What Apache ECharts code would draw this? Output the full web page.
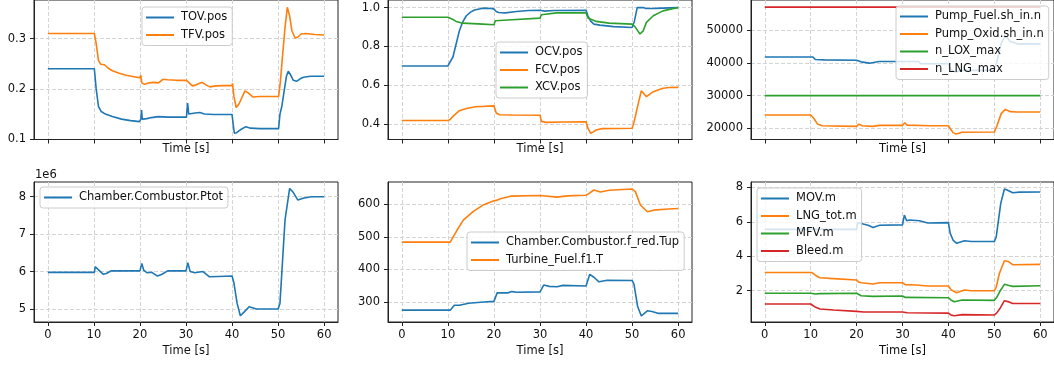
<!DOCTYPE html>
<html>
<head>
<meta charset="utf-8">
<title>Engine transient</title>
<script src="https://cdn.jsdelivr.net/npm/echarts@6/dist/echarts.min.js"></script>
<style>
  html, body { margin: 0; padding: 0; background: #fff; }
  #chart { width: 1054px; height: 367px; }
</style>
</head>
<body>
<div id="chart"></div>
<script>
// tick values
const timeTicks = [0, 10, 20, 30, 40, 50, 60];
const posTicksA = [0.1, 0.2, 0.3];
const posTicksB = [0.4, 0.6, 0.8, 1.0];
const speedTicks = [20000, 30000, 40000, 50000];
const pressTicks = [5e6, 6e6, 7e6, 8e6];
const tempTicks = [300, 400, 500, 600];
const flowTicks = [2, 4, 6, 8];

// valve positions [t, value]
const tovPos = [[0,0.240],[10.1,0.240],[10.5,0.200],[11.0,0.165],[11.6,0.155],[12.5,0.150],[14,0.145],[16,0.140],[18,0.137],[19.9,0.135],[20.2,0.140],[20.35,0.158],[20.5,0.140],[20.8,0.138],[21.5,0.141],[22.5,0.143],[24,0.145],[26,0.144],[30.1,0.144],[30.35,0.172],[30.6,0.150],[30.9,0.148],[32,0.152],[33,0.153],[34,0.150],[36,0.149],[40.0,0.149],[40.3,0.125],[40.5,0.112],[41,0.113],[42,0.120],[43,0.125],[44,0.122],[46,0.121],[50.1,0.121],[50.4,0.150],[50.8,0.165],[51.3,0.195],[51.8,0.225],[52.2,0.235],[52.7,0.228],[53.3,0.217],[54,0.215],[54.8,0.220],[55.5,0.223],[57,0.225],[60,0.225]];
const tfvPos = [[0,0.310],[10.1,0.310],[10.5,0.290],[11,0.256],[11.5,0.249],[12.3,0.248],[13,0.242],[14,0.236],[15.5,0.231],[17,0.227],[19.9,0.222],[20.2,0.227],[20.4,0.212],[21,0.209],[22,0.212],[23,0.213],[24,0.212],[25,0.219],[26,0.218],[28,0.217],[30.1,0.217],[30.4,0.220],[31.4,0.206],[32.2,0.208],[33.5,0.213],[34.5,0.207],[35.2,0.204],[36.5,0.206],[40,0.207],[40.1,0.211],[40.4,0.185],[40.9,0.163],[41.5,0.170],[42.8,0.196],[43.5,0.192],[44.5,0.184],[46,0.185],[50.1,0.185],[50.5,0.215],[51,0.270],[51.5,0.322],[52.0,0.362],[52.5,0.345],[53,0.315],[53.7,0.301],[54.3,0.303],[55,0.309],[56,0.310],[58,0.308],[60,0.307]];
const ocvPos = [[0,0.70],[10,0.70],[10.3,0.71],[11.1,0.746],[12.5,0.881],[13.2,0.925],[14,0.958],[15,0.978],[15.8,0.988],[17.6,0.997],[19.5,0.995],[20,0.992],[20.5,0.98],[21,0.975],[22.5,0.973],[24.9,0.98],[27.5,0.985],[30,0.986],[30.2,0.98],[31,0.982],[33,0.985],[40,0.986],[40.4,0.958],[41,0.93],[41.7,0.915],[43,0.91],[46,0.902],[50,0.898],[50.5,0.93],[51.1,1.0],[52.4,1.0],[53,0.995],[55,0.996],[60,1.0]];
const fcvPos = [[0,0.42],[10,0.42],[10.5,0.425],[11.1,0.441],[12.5,0.47],[14,0.481],[16,0.49],[20,0.495],[20.2,0.48],[20.5,0.458],[21.2,0.449],[24,0.448],[30,0.447],[30.3,0.415],[31.3,0.41],[35,0.412],[40,0.413],[40.4,0.38],[41,0.354],[41.5,0.36],[42.2,0.371],[43.5,0.378],[50,0.38],[50.4,0.41],[51,0.473],[52,0.573],[53.1,0.542],[54.6,0.568],[56.7,0.585],[58,0.589],[60,0.59]];
const xcvPos = [[0,0.95],[10,0.95],[11,0.94],[11.8,0.929],[13.2,0.92],[17.6,0.915],[20,0.912],[20.3,0.932],[23,0.936],[30,0.946],[30.3,0.963],[33.6,0.973],[40,0.973],[40.4,0.946],[42.2,0.929],[45,0.92],[50,0.915],[50.6,0.902],[51.7,0.864],[52.4,0.88],[53.1,0.924],[54.6,0.958],[56.7,0.983],[60,1.0]];

// pump speeds
const pumpFuel = [[0,41800],[10.5,41800],[11,41000],[13,40900],[20,40800],[21,40300],[22.8,39900],[24.9,40400],[30,40400],[33.5,40400],[34,39700],[40,39700],[40.5,38000],[41.5,37200],[43,37700],[50,37700],[50.5,40000],[51.5,46000],[52.4,48300],[53.5,46500],[55,45800],[60,45800]];
const pumpOxid = [[0,24100],[10,24100],[10.7,23000],[11.5,21300],[12.5,20800],[20,20600],[20.5,21300],[21.2,20800],[23.5,20600],[25,20900],[30,20900],[30.5,21700],[31,21000],[36,20800],[40,20800],[40.6,19500],[41,18700],[41.7,18300],[43,18800],[50,18900],[50.5,20500],[51.5,24500],[52.4,25800],[53.5,25100],[55,25000],[60,25000]];
const nLoxMax = [[0,30000],[60,30000]];
const nLngMax = [[0,57000],[60,57000]];

// chamber pressure
const ptot = [[0,5.98e6],[10.1,5.98e6],[10.3,6.13e6],[10.9,6.06e6],[12,5.93e6],[12.7,5.95e6],[13.8,6.02e6],[20,6.02e6],[20.2,6.05e6],[20.4,6.22e6],[20.8,6.04e6],[21.5,5.97e6],[22.6,5.98e6],[23.8,5.88e6],[24.8,5.93e6],[26,6.02e6],[30,6.02e6],[30.2,6.06e6],[30.4,6.24e6],[30.9,6.0e6],[31.9,5.97e6],[33.7,6.0e6],[35.1,5.86e6],[37,5.87e6],[40,5.88e6],[40.4,5.7e6],[41.1,5.15e6],[41.8,4.82e6],[42.7,4.93e6],[43.7,5.06e6],[45.3,5.0e6],[50,5.0e6],[50.4,5.15e6],[51.5,7.38e6],[52.5,8.22e6],[53.2,8.13e6],[54.3,7.91e6],[55.4,7.96e6],[57.2,8.0e6],[60,8.0e6]];

// temperatures
const tupTemp = [[0,275],[10.5,275],[11.4,290],[12.5,290],[14.5,296],[17.8,300],[20,302],[20.7,328],[23,328],[23.9,332],[25,330],[30,331],[30.8,352],[32,348],[33.7,347],[35,351],[40,349],[40.3,355],[40.8,385],[41.7,376],[42.8,362],[44.6,367],[50,366],[50.4,355],[51.2,286],[52,257],[53.3,273],[54.3,271],[55.8,265],[60,265]];
const turbTemp = [[0,484],[10.5,484],[12,521],[13.4,552],[15.6,579],[17.8,599],[20,611],[20.5,612],[21.4,617],[23.6,625],[30,627],[30.4,624],[33.7,622],[35.9,626],[40,628],[40.5,632],[41.7,644],[43.1,638],[45,643],[50,647],[50.7,639],[51.8,598],[53.3,577],[54.7,582],[57,585],[60,587]];

// mass flows
const movFlow = [[0,5.56],[20,5.56],[20.2,5.95],[21,5.9],[22.5,5.8],[23.6,5.67],[25,5.8],[30,5.82],[30.2,5.9],[30.4,6.39],[30.9,6.06],[31.5,6.1],[33.7,6.06],[35.5,5.93],[40,5.95],[40.4,5.33],[41,4.94],[41.8,4.75],[43.5,4.9],[45,4.86],[50,4.86],[50.4,5.1],[51.4,7.07],[52.2,7.9],[52.8,7.85],[54,7.69],[55.5,7.72],[60,7.73]];
const lngFlow = [[0,3.06],[10.2,3.06],[11,2.9],[12,2.75],[15,2.7],[20,2.62],[20.5,2.5],[21,2.46],[23.6,2.39],[25,2.46],[30,2.46],[30.6,2.35],[33,2.33],[35.5,2.27],[40,2.27],[40.6,2.05],[41,1.94],[41.8,1.88],[43.5,2.04],[45,2.0],[50,2.0],[50.4,2.2],[51.1,3.0],[52.2,3.74],[53,3.7],[54,3.51],[60,3.53]];
const mfvFlow = [[0,1.85],[10,1.85],[11,1.81],[12,1.83],[20,1.85],[21,1.71],[23.5,1.67],[30,1.69],[30.6,1.61],[40,1.59],[40.6,1.45],[41.3,1.36],[43,1.46],[50,1.44],[50.5,1.6],[51.3,2.0],[52.2,2.37],[53.2,2.3],[54,2.25],[60,2.29]];
const bleedFlow = [[0,1.23],[10,1.23],[11,1.05],[12,0.94],[15,0.88],[20,0.8],[20.3,0.84],[21.5,0.76],[30,0.76],[30.3,0.8],[31,0.72],[40,0.7],[40.6,0.58],[41.3,0.55],[43,0.61],[50,0.59],[50.5,0.7],[51.3,1.0],[52.2,1.42],[53.2,1.35],[54,1.26],[60,1.26]];

const FONT = 'DejaVu Sans';
const FS = 11.5;
const C = ['#1f77b4', '#ff7f0e', '#2ca02c', '#d62728'];

const chart = echarts.init(document.getElementById('chart'));

// panel layout: left, top, y range, y ticks, label formatter
const panels = [
  { left: 34, top: -1, h: 140.5, min: 0.0995, max: 0.3765, ticks: posTicksA, fmt: v => v.toFixed(1) },
  { left: 388, top: -1, h: 140.5, min: 0.322, max: 1.039, ticks: posTicksB, fmt: v => v.toFixed(1) },
  { left: 751, top: -1, h: 140.5, min: 16600, max: 59180, ticks: speedTicks, fmt: v => String(v) },
  { left: 34, top: 182, h: 140, min: 4.653e6, max: 8.393e6, ticks: pressTicks, fmt: v => String(Math.round(v / 1e6)) },
  { left: 388, top: 182, h: 140, min: 238.6, max: 668.5, ticks: tempTicks, fmt: v => String(v) },
  { left: 751, top: 182, h: 140, min: 0.183, max: 8.31, ticks: flowTicks, fmt: v => String(v) }
];

const dashed = { color: '#d4d4d4', width: 1, type: [4, 2] };

const grid = panels.map(p => ({
  left: p.left, top: p.top, width: 304, height: p.h,
  show: true, borderColor: '#222', borderWidth: 1, containLabel: false
}));

const xAxis = panels.map((p, i) => ({
  type: 'value', gridIndex: i, min: -3, max: 63,
  name: 'Time [s]', nameLocation: 'middle', nameGap: i < 3 ? 4 : 23,
  nameTextStyle: { fontFamily: FONT, fontSize: FS, color: '#111' },
  axisLine: { show: true, onZero: false, lineStyle: { color: '#222' } },
  axisTick: { show: true, length: 4, customValues: timeTicks, lineStyle: { color: '#222' } },
  axisLabel: { show: i >= 3, customValues: timeTicks, margin: 7, fontFamily: FONT, fontSize: FS, color: '#111' },
  splitLine: { show: true, lineStyle: dashed }
}));

const yAxis = panels.map((p, i) => ({
  type: 'value', gridIndex: i, min: p.min, max: p.max,
  axisLine: { show: true, onZero: false, lineStyle: { color: '#222' } },
  axisTick: { show: true, length: 4, customValues: p.ticks, lineStyle: { color: '#222' } },
  axisLabel: { customValues: p.ticks, margin: 8, fontFamily: FONT, fontSize: FS, color: '#111', formatter: p.fmt },
  splitLine: { show: true, lineStyle: dashed }
}));

function line(name, data, idx, color) {
  return {
    name, type: 'line', data, xAxisIndex: idx, yAxisIndex: idx,
    symbol: 'none', lineStyle: { width: 1.6, color }, itemStyle: { color },
    animation: false, z: 3
  };
}

const series = [
  line('TOV.pos', tovPos, 0, C[0]),
  line('TFV.pos', tfvPos, 0, C[1]),
  line('OCV.pos', ocvPos, 1, C[0]),
  line('FCV.pos', fcvPos, 1, C[1]),
  line('XCV.pos', xcvPos, 1, C[2]),
  line('Pump_Fuel.sh_in.n', pumpFuel, 2, C[0]),
  line('Pump_Oxid.sh_in.n', pumpOxid, 2, C[1]),
  line('n_LOX_max', nLoxMax, 2, C[2]),
  line('n_LNG_max', nLngMax, 2, C[3]),
  line('Chamber.Combustor.Ptot', ptot, 3, C[0]),
  line('Chamber.Combustor.f_red.Tup', tupTemp, 4, C[0]),
  line('Turbine_Fuel.f1.T', turbTemp, 4, C[1]),
  line('MOV.m', movFlow, 5, C[0]),
  line('LNG_tot.m', lngFlow, 5, C[1]),
  line('MFV.m', mfvFlow, 5, C[2]),
  line('Bleed.m', bleedFlow, 5, C[3])
];

function legendBox(names, left, top) {
  return {
    data: names, left, top, orient: 'vertical',
    icon: 'rect', itemWidth: 28, itemHeight: 2, itemGap: 3.5,
    padding: [3.5, 5, 3.5, 4],
    backgroundColor: 'rgba(255,255,255,0.8)', borderColor: '#cccccc', borderWidth: 1, borderRadius: 3,
    textStyle: { fontFamily: FONT, fontSize: FS, color: '#111', lineHeight: 14, padding: [0, 0, 0, 2] },
    selectedMode: false, z: 10
  };
}

const legend = [
  legendBox(['TOV.pos', 'TFV.pos'], 142, 7),
  legendBox(['OCV.pos', 'FCV.pos', 'XCV.pos'], 496, 42),
  legendBox(['Pump_Fuel.sh_in.n', 'Pump_Oxid.sh_in.n', 'n_LOX_max', 'n_LNG_max'], 896, 6),
  legendBox(['Chamber.Combustor.Ptot'], 40, 187),
  legendBox(['Chamber.Combustor.f_red.Tup', 'Turbine_Fuel.f1.T'], 467, 232),
  legendBox(['MOV.m', 'LNG_tot.m', 'MFV.m', 'Bleed.m'], 757, 188)
];

chart.setOption({
  backgroundColor: '#fff',
  animation: false,
  grid, xAxis, yAxis, series, legend,
  graphic: [{
    type: 'text', left: 35, top: 169,
    style: { text: '1e6', fontFamily: FONT, fontSize: FS, fill: '#111' }
  }]
});
</script>
</body>
</html>
